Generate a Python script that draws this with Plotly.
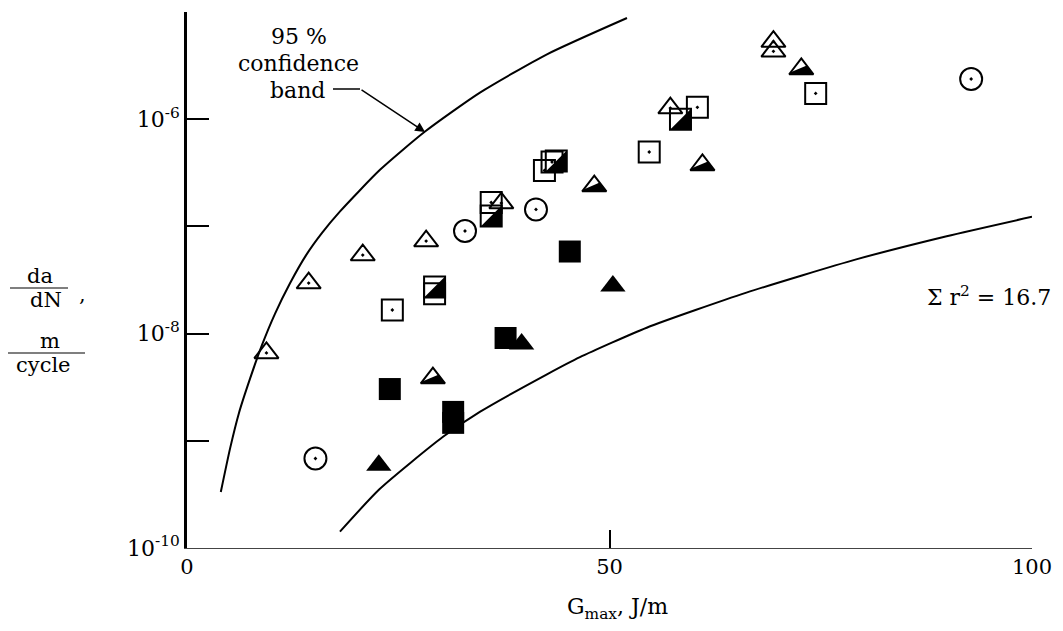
import plotly.graph_objects as go

# ---------------- data ----------------
# 95 % confidence band (upper and lower curves)
upper_x = [4.0, 5.1, 6.15, 7.46, 8.88, 10.41, 12.19, 14.08, 15.98, 18.11, 22.84, 28.17,
           34.67, 42.6, 52.07]
upper_y = [3.33e-10, 8.5e-10, 1.82e-9, 3.8e-9, 7.85e-9, 1.53e-8, 2.95e-8, 5.37e-8,
           8.7e-8, 1.38e-7, 3.37e-7, 7.67e-7, 1.77e-6, 4.03e-6, 8.79e-6]
lower_x = [18.1, 22.8, 30.3, 34.7, 42.6, 46.5, 54.4, 66.2, 79.3, 89.9, 100.0]
lower_y = [1.42e-10, 3.55e-10, 1.09e-9, 1.87e-9, 4.17e-9, 6.03e-9, 1.135e-8, 2.41e-8,
           4.95e-8, 8.1e-8, 1.23e-7]

# open triangles with centre dot
open_tri_x = [9.4, 14.4, 20.8, 28.3, 37.2, 57.2, 69.4, 69.4]
open_tri_y = [6.6e-9, 2.96e-8, 5.4e-8, 7.3e-8, 1.65e-7, 1.27e-6, 5.3e-6, 4.3e-6]
# half-filled triangles
half_tri_x = [29.1, 48.2, 61.0, 72.7]
half_tri_y = [3.85e-9, 2.38e-7, 3.74e-7, 2.94e-6]
# filled triangles
filled_tri_x = [22.7, 39.6, 50.4]
filled_tri_y = [5.9e-10, 8.0e-9, 2.78e-8]
# filled squares
filled_sq_x = [24.0, 31.5, 31.5, 37.7, 45.3]
filled_sq_y = [3.04e-9, 1.86e-9, 1.47e-9, 9.1e-9, 5.83e-8]
# half-filled squares
half_sq_x = [29.3, 36.0, 43.7, 58.4]
half_sq_y = [2.72e-8, 1.25e-7, 4.07e-7, 1.0e-6]
# open squares with centre dot
open_sq_x = [24.3, 29.3, 36.0, 42.3, 43.2, 54.7, 60.4, 74.4]
open_sq_y = [1.66e-8, 2.35e-8, 1.67e-7, 3.33e-7, 3.99e-7, 4.94e-7, 1.29e-6, 1.74e-6]
# open circles with centre dot
circle_x = [15.2, 32.9, 41.3, 92.8]
circle_y = [6.84e-10, 9.06e-8, 1.44e-7, 2.37e-6]

x_tickvals = [0, 50, 100]
x_ticktext = ["0", "50", "100"]
y_tickvals = [1e-10, 1e-8, 1e-6]
y_ticktext = ["10<sup>-10</sup>", "10<sup>-8</sup>", "10<sup>-6</sup>"]
y_minor_vals = [1e-9, 1e-7, 1e-5]

# ---------------- layout geometry ----------------
# page body has an 8 px margin; plot area in window pixels: x 187..1032, y 12..548
OFF = 8
W, H = 1063 - 2 * OFF, 631 - 2 * OFF
PL, PR, PT, PB = 187, 1032, 12, 548
L, T = PL - OFF, PT - OFF
R, B = W - (PR - OFF), H - (PB - OFF)


def pxx(px):
    return (px - PL) / (PR - PL)


def pxy(py):
    return (PB - py) / (PB - PT)


FONT = "DejaVu Serif"
fig = go.Figure()

line_style = dict(color="black", width=2, shape="spline", smoothing=0.6)
fig.add_trace(go.Scatter(x=upper_x, y=upper_y, mode="lines", line=line_style, showlegend=False))
fig.add_trace(go.Scatter(x=lower_x, y=lower_y, mode="lines", line=line_style, showlegend=False))

mk_line = dict(color="black", width=2)
fig.add_trace(go.Scatter(x=open_sq_x, y=open_sq_y, mode="markers", showlegend=False,
                         marker=dict(symbol="square-open-dot", size=21, color="black", line=mk_line)))
fig.add_trace(go.Scatter(x=half_sq_x, y=half_sq_y, mode="markers", showlegend=False,
                         marker=dict(symbol="square-open", size=21, color="black", line=mk_line)))
fig.add_trace(go.Scatter(x=filled_sq_x, y=filled_sq_y, mode="markers", showlegend=False,
                         marker=dict(symbol="square", size=22, color="black", line=dict(width=0))))
fig.add_trace(go.Scatter(x=open_tri_x, y=open_tri_y, mode="markers", showlegend=False,
                         marker=dict(symbol="triangle-up-open-dot", size=21, color="black", line=mk_line)))
fig.add_trace(go.Scatter(x=half_tri_x, y=half_tri_y, mode="markers", showlegend=False,
                         marker=dict(symbol="triangle-up-open", size=21, color="black", line=mk_line)))
fig.add_trace(go.Scatter(x=filled_tri_x, y=filled_tri_y, mode="markers", showlegend=False,
                         marker=dict(symbol="triangle-up", size=22, color="black", line=dict(width=0))))
fig.add_trace(go.Scatter(x=circle_x, y=circle_y, mode="markers", showlegend=False,
                         marker=dict(symbol="circle-open-dot", size=22, color="black", line=mk_line)))

shapes = []
# black halves of the half-filled markers (pixel-sized paths anchored at the data points)
sq_half = "M10.5,-10.5L-10.5,-10.5L10.5,10.5Z"
tri_half = "M-12.12,-5.25L12.12,-5.25L5.45,3.41L-10.67,-3.36Z"
for xv, yv in zip(half_sq_x, half_sq_y):
    shapes.append(dict(type="path", xref="x", yref="y", xsizemode="pixel", ysizemode="pixel",
                       xanchor=xv, yanchor=yv, path=sq_half, fillcolor="black",
                       line=dict(width=0), layer="above"))
for xv, yv in zip(half_tri_x, half_tri_y):
    shapes.append(dict(type="path", xref="x", yref="y", xsizemode="pixel", ysizemode="pixel",
                       xanchor=xv, yanchor=yv, path=tri_half, fillcolor="black",
                       line=dict(width=0), layer="above"))

# leader line next to "band"
shapes.append(dict(type="line", xref="paper", yref="paper", x0=pxx(333), x1=pxx(360),
                   y0=pxy(89), y1=pxy(89), line=dict(color="black", width=1.5)))
# fraction bars of the y label
shapes.append(dict(type="line", xref="paper", yref="paper", x0=pxx(10), x1=pxx(68),
                   y0=pxy(288), y1=pxy(288), line=dict(color="black", width=1.2)))
shapes.append(dict(type="line", xref="paper", yref="paper", x0=pxx(8), x1=pxx(85),
                   y0=pxy(353), y1=pxy(353), line=dict(color="black", width=1.2)))

annotations = []
tf = dict(family=FONT, size=22, color="black")
tf_small = dict(family=FONT, size=21, color="black")


def label(text, px, py, xanchor="center", font=tf):
    annotations.append(dict(xref="paper", yref="paper", x=pxx(px), y=pxy(py), showarrow=False,
                            text=text, font=font, xanchor=xanchor, yanchor="middle"))


label("95 %", 299, 36)
label("confidence", 298, 63)
label("band", 297, 90)
annotations.append(dict(xref="x", yref="y", x=28.17, y=-6.119, ax=-65, ay=-43,
                        axref="pixel", ayref="pixel", showarrow=True, arrowhead=2,
                        arrowsize=1.3, arrowwidth=1.5, arrowcolor="black", text=""))
label("\u03a3 r<sup>2</sup> = 16.7", 1053, 296, xanchor="right")
label("da", 40, 276, font=tf_small)
label("dN", 46, 300, font=tf_small)
label(",", 82, 294, font=tf_small)
label("m", 50, 341, font=tf_small)
label("cycle", 43, 365, font=tf_small)
label("G<sub>max</sub>, J/m", 617, 608)

fig.update_layout(
    width=W, height=H,
    margin=dict(l=L, r=R, t=T, b=B, pad=0),
    paper_bgcolor="white", plot_bgcolor="white",
    showlegend=False,
    font=dict(family=FONT, size=21, color="black"),
    shapes=shapes, annotations=annotations,
    xaxis=dict(range=[0, 100], showgrid=False, zeroline=False, showline=True,
               linecolor="#444", linewidth=1, ticks="inside", ticklen=18, tickwidth=1.5,
               tickcolor="black", tickvals=x_tickvals, ticktext=x_ticktext,
               tickfont=dict(family=FONT, size=21)),
    yaxis=dict(type="log", range=[-10, -5], showgrid=False, zeroline=False, showline=True,
               linecolor="black", linewidth=2.5, ticks="inside", ticklen=22, tickwidth=2,
               tickcolor="black", tickvals=y_tickvals, ticktext=y_ticktext,
               tickfont=dict(family=FONT, size=22),
               minor=dict(tickvals=y_minor_vals, ticks="inside", ticklen=22, tickwidth=2,
                          tickcolor="black", showgrid=False)),
)

fig.write_html("out.html")
